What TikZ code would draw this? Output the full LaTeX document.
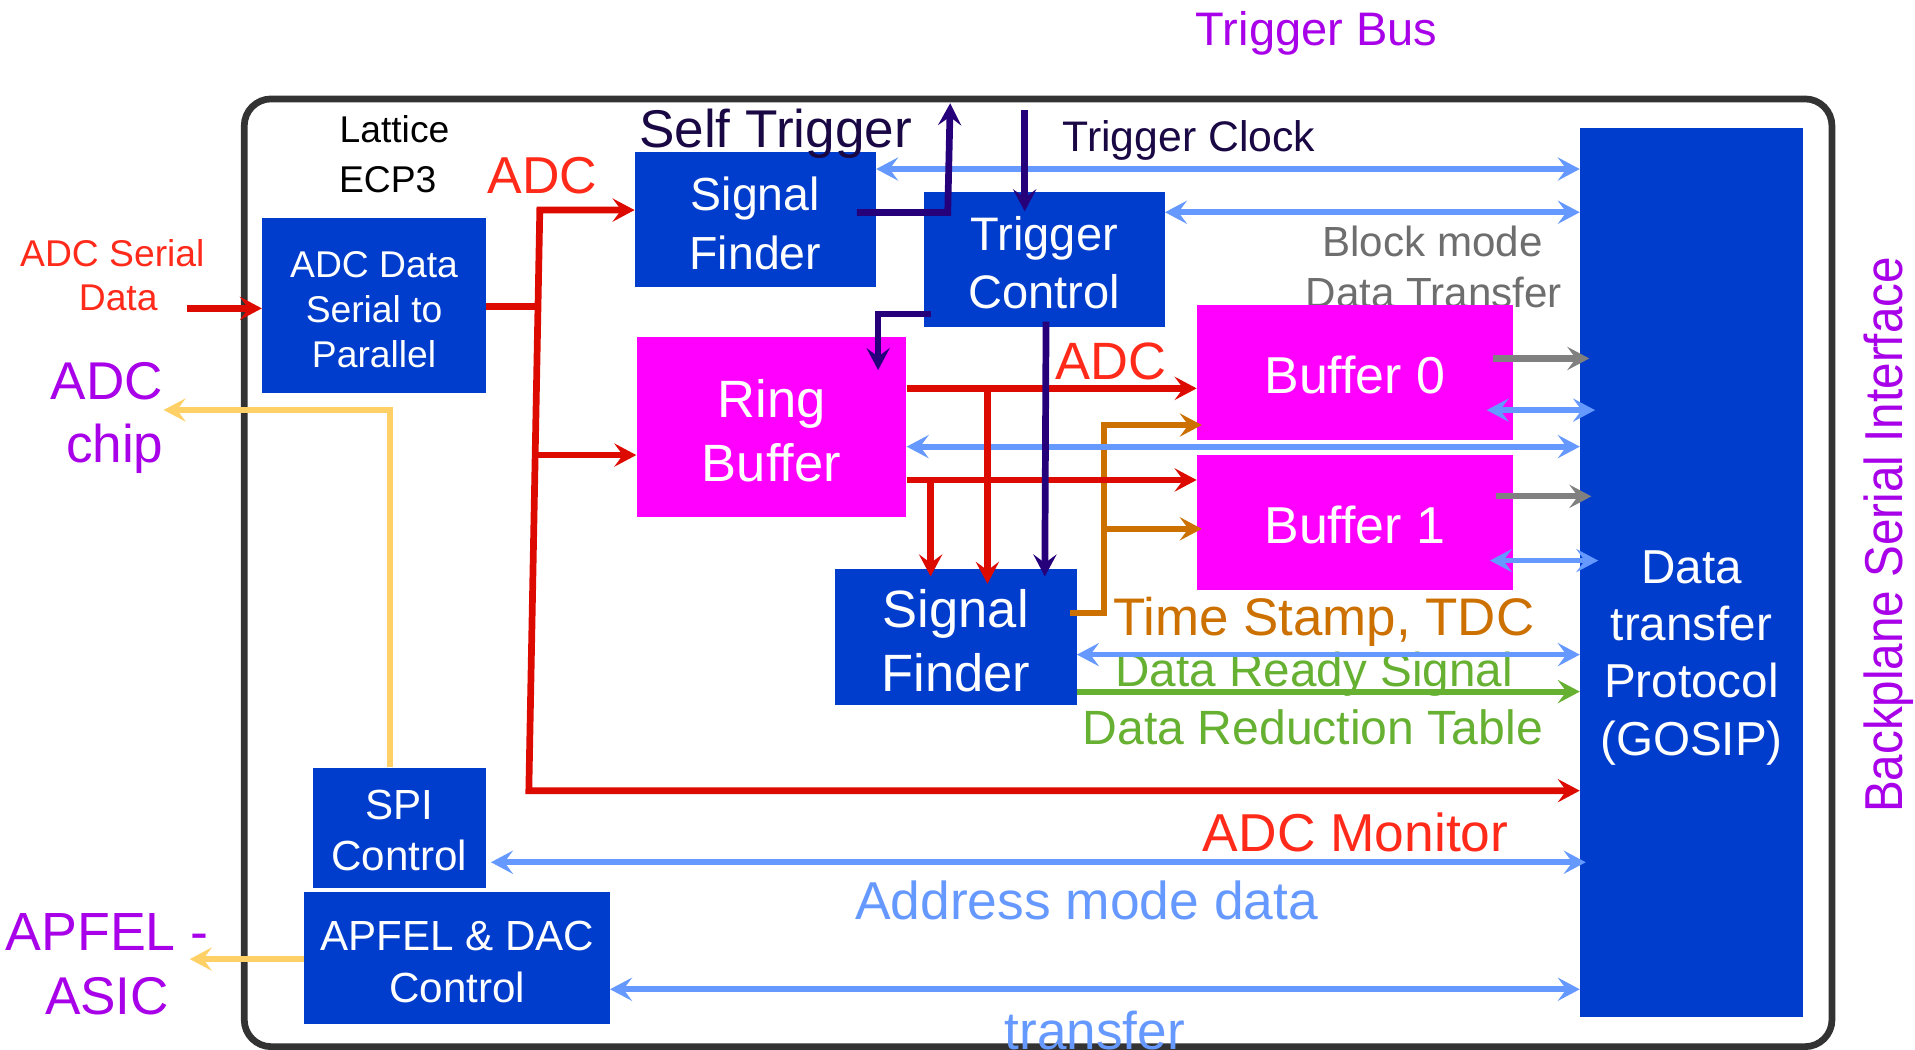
\documentclass[tikz,border=0pt]{standalone}
\usepackage{fontspec}
\setmainfont{Liberation Sans}
\usetikzlibrary{arrows.meta}
\definecolor{boxblue}{HTML}{003DCC}
\definecolor{magbox}{HTML}{FF00FF}
\definecolor{framegray}{HTML}{333333}
\definecolor{redline}{HTML}{DD0A00}
\definecolor{redtext}{HTML}{FF2A1A}
\definecolor{purp}{HTML}{A800E8}
\definecolor{navy}{HTML}{26007A}
\definecolor{navytext}{HTML}{1A0845}
\definecolor{lblue}{HTML}{6699FF}
\definecolor{orng}{HTML}{CC7000}
\definecolor{grn}{HTML}{66B032}
\definecolor{graytext}{HTML}{6E6E6E}
\definecolor{grayline}{HTML}{808080}
\definecolor{yell}{HTML}{FFD066}
\newcommand\fsz[1]{\fontsize{#1}{#1}\selectfont}
\begin{document}
\begin{tikzpicture}[x=1pt,y=-1pt,
  >={Stealth[length=18pt,width=19pt,inset=7pt]},
  bbox/.style={fill=boxblue, inner sep=0pt},
  mbox/.style={fill=magbox, inner sep=0pt},
  btxt/.style={inner sep=0pt, text=white, align=center},
  lbl/.style={inner sep=0pt, anchor=base},
  rd/.style={draw=redline, line width=5.5pt},
  nv/.style={draw=navy, line width=5.5pt},
  bl/.style={draw=lblue, line width=4.7pt},
  gr/.style={draw=grayline, line width=5pt},
  og/.style={draw=orng, line width=5pt},
  gn/.style={draw=grn, line width=5pt},
  yl/.style={draw=yell, line width=5pt}]
\useasboundingbox (0,0) rectangle (1568,859);
\fill[white] (0,0) rectangle (1568,859);

% frame
\node[draw=framegray, line width=5.5pt, rounded corners=22pt, minimum width=1300pt, minimum height=776pt, inner sep=0pt] (fpga) at (850,469) {};

% labels under boxes
\node[lbl, text=graytext, font=\fsz{34.5}] (blk1) at (1173,210.4) {Block mode};
\node[lbl, text=graytext, font=\fsz{34.5}] (blk2) at (1174,251.9) {Data Transfer};

% boxes
\node[bbox, minimum width=183.4pt, minimum height=143.2pt] (adc) at (306.3,250.4) {};
\node[bbox, minimum width=197.4pt, minimum height=111.1pt] (sf1) at (618.5,179.75) {};
\node[bbox, minimum width=197.4pt, minimum height=111pt] (tc) at (855,212.5) {};
\node[mbox, minimum width=221pt, minimum height=147.3pt] (rb) at (631.7,349.35) {};
\node[mbox, minimum width=258.6pt, minimum height=110.6pt] (b0) at (1109.3,305) {};
\node[mbox, minimum width=258.6pt, minimum height=110.6pt] (b1) at (1109.3,427.85) {};
\node[bbox, minimum width=198pt, minimum height=111.1pt] (sf2) at (782.6,521.75) {};
\node[bbox, minimum width=141.8pt, minimum height=98.3pt] (spi) at (326.8,677.65) {};
\node[bbox, minimum width=250pt, minimum height=107.9pt] (apfel) at (374.3,784.55) {};
\node[bbox, minimum width=182.8pt, minimum height=727.8pt] (gosip) at (1385.1,468.6) {};

% box texts
\node[btxt, font=\fontsize{30.5}{37}\selectfont] (adct) at ([yshift=-3pt]adc.center) {ADC Data\\Serial to\\Parallel};
\node[btxt, font=\fontsize{38}{48.4}\selectfont] (sf1t) at ([yshift=-3pt]sf1.center) {Signal\\Finder};
\node[btxt, font=\fontsize{38.5}{48}\selectfont] (tct) at ([yshift=-2.5pt]tc.center) {Trigger\\Control};
\node[btxt, font=\fontsize{43}{52}\selectfont] (rbt) at ([yshift=-3.5pt]rb.center) {Ring\\Buffer};
\node[btxt, font=\fsz{42.5}] (b0t) at ([yshift=-2pt]b0.center) {Buffer 0};
\node[btxt, font=\fsz{42.5}] (b1t) at ([yshift=-2pt]b1.center) {Buffer 1};
\node[btxt, font=\fontsize{43}{52.5}\selectfont] (sf2t) at ([yshift=-3pt]sf2.center) {Signal\\Finder};
\node[btxt, font=\fontsize{34.5}{42}\selectfont] (spit) at ([yshift=-2.5pt]spi.center) {SPI\\Control};
\node[btxt, font=\fontsize{34.5}{42.5}\selectfont] (apfelt) at ([yshift=-3pt]apfel.center) {APFEL \& DAC\\Control};
\node[btxt, font=\fontsize{39}{47}\selectfont] (gtxt) at (1385,538.6) {Data\\transfer\\Protocol\\(GOSIP)};

% labels
\node[lbl, text=purp, font=\fsz{38.5}] (tbus) at (1078,37.2) {Trigger Bus};
\node[lbl, font=\fsz{30.5}] (lat1) at (323,117) {Lattice};
\node[lbl, font=\fsz{30.5}] (lat2) at (317.5,157.5) {ECP3};
\node[lbl, text=redtext, font=\fsz{42.5}] (adc1) at (444,158.1) {ADC};
\node[lbl, text=redtext, font=\fsz{30.5}] (asd1) at (92,218) {ADC Serial};
\node[lbl, text=redtext, font=\fsz{30.5}] (asd2) at (96.8,254.5) {Data};
\node[lbl, text=purp, font=\fsz{43.5}] (chip1) at (87.4,327) {ADC};
\node[lbl, text=purp, font=\fsz{43.5}] (chip2) at (94,379) {chip};
\node[lbl, text=navytext, font=\fsz{43.5}] (self) at (635,120.6) {Self Trigger};
\node[lbl, text=navytext, font=\fsz{35}] (tclk) at (973.5,124) {Trigger Clock};
\node[lbl, text=redtext, font=\fsz{43}] (adc2) at (909.5,310.8) {ADC};
\node[lbl, text=orng, font=\fsz{43.3}] (tdc) at (1083.8,520.6) {Time Stamp, TDC};
\node[lbl, text=grn, font=\fsz{39}] (drs) at (1076,561.9) {Data Ready Signal};
\node[lbl, text=grn, font=\fsz{39.4}] (drt) at (1075,609.9) {Data Reduction Table};
\node[lbl, text=redtext, font=\fsz{43.7}] (mon) at (1110,697) {ADC Monitor};
\node[lbl, text=lblue, font=\fsz{43.7}] (amd) at (889.7,753) {Address mode data};
\node[lbl, text=lblue, font=\fsz{43.5}] (trf) at (896.5,859) {transfer};
\node[lbl, text=purp, font=\fsz{44}] (ap1) at (87.7,778.6) {APFEL -};
\node[lbl, text=purp, font=\fsz{43.5}] (ap2) at (87.7,830.5) {ASIC};
\node[text=purp, rotate=90, inner sep=0pt, font=\fsz{39}] (bsi) at (1546.5,438) {\scalebox{1}[1.12]{Backplane Serial Interface}};

% orange
\draw[og,->] (876,502) -- (904,502) -- (904,348) -- (984,348);
\draw[og,->] (904,433) -- (984,433);

% light blue
\draw[bl,<->] (sf1.east |- 0,138.4) -- (gosip.west |- 0,138.4);
\draw[bl,<->] (tc.east |- 0,173.8) -- (gosip.west |- 0,173.8);
\draw[bl,<->] (rb.east |- 0,365.7) -- (gosip.west |- 0,365.7);
\draw[bl,<->] (1217.3,335.8) -- (1306,335.8);
\draw[bl,<->] (1220,459) -- (1308.6,459);
\draw[bl,<->] (sf2.east |- 0,536) -- (gosip.west |- 0,536);
\draw[bl,<->] (402,706) -- (1298.4,706);
\draw[bl,<->] (apfel.east |- 0,810) -- (gosip.west |- 0,810);

% gray
\draw[gr,->] (1222.6,293.5) -- (1301.3,293.5);
\draw[gr,->] (1224.7,406.4) -- (1303,406.4);

% green
\draw[gn,->] (sf2.east |- 0,566.3) -- (gosip.west |- 0,566.3);

% yellow
\draw[yl,->] (spi.north -| 319,0) -- (319,335.7) -- (134,335.7);
\draw[yl,->] (apfel.west |- 0,785.3) -- (155.4,785.3);

% red
\coordinate (sin) at (152.8,252.5);
\coordinate (rtop) at (442,172);
\coordinate (rjn) at (440.5,251);
\coordinate (rmid) at (438.2,372.6);
\coordinate (rbot) at (433,647.4);
\draw[rd,->] (sin) -- (adc.west |- sin);
\draw[rd] (adc.east |- rjn) -- (rjn);
\draw[rd,<->] (sf1.west |- rtop) -- (rtop) -- (rbot) -- (gosip.west |- rbot);
\draw[rd,->] (rmid) -- (rb.west |- rmid);
\draw[rd,->] (rb.east |- 0,318) -- (b0.west |- 0,318);
\draw[rd,->] (rb.east |- 0,393) -- (b1.west |- 0,393);
\draw[rd,->] (808.5,318) -- (808.5,478);
\draw[rd,->] (762,393) -- (762,472);

% navy
\draw[nv,->] (701.5,174) -- (776,174) -- (778,84.6);
\draw[nv,->] (839,90) -- (839,173);
\draw[nv,->] (762,257) -- (719,257) -- (719,303);
\draw[nv,->] (856.5,263.4) -- (855.5,472);
\end{tikzpicture}
\end{document}
